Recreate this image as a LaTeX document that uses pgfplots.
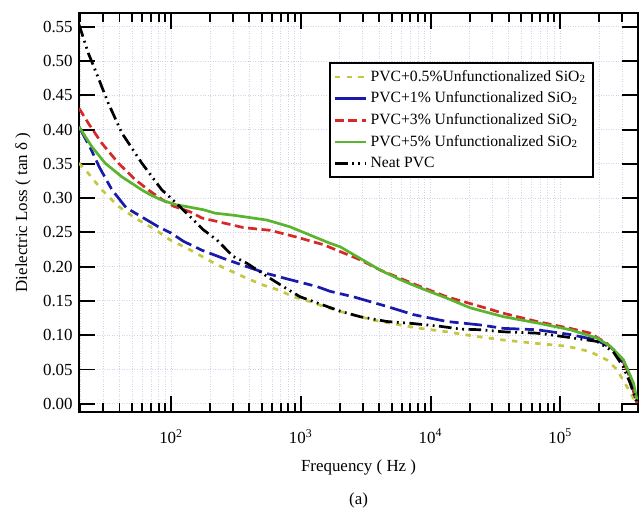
\documentclass[border=0pt]{standalone}
\usepackage{fontspec}
\setmainfont{Liberation Serif}
\usepackage{pgfplots}
\pgfplotsset{compat=1.18}
\definecolor{yc}{RGB}{196,200,64}
\definecolor{bc}{RGB}{25,25,170}
\definecolor{rc}{RGB}{214,40,40}
\definecolor{gc}{RGB}{90,180,45}
\definecolor{gridc}{RGB}{210,210,232}
\begin{document}
\begin{tikzpicture}
\useasboundingbox (-43.9pt,-53.9pt) rectangle (311.1pt,228.9pt);
\begin{axis}[name=ax, at={(0,0)}, anchor=south west, scale only axis,
  width=310.6pt, height=221.7pt,
  xmode=log, xmin=19.5, xmax=3.98e5, ymin=-0.012, ymax=0.57,
  xtick={100,1000,10000,100000},
  xticklabels={10\textsuperscript{2},10\textsuperscript{3},10\textsuperscript{4},10\textsuperscript{5}},
  minor xtick={20,30,40,50,60,70,80,90,200,300,400,500,600,700,800,900,2000,3000,4000,5000,6000,7000,8000,9000,20000,30000,40000,50000,60000,70000,80000,90000,200000,300000},
  ytick={0,0.05,0.1,0.15,0.2,0.25,0.3,0.35,0.4,0.45,0.5,0.55},
  yticklabel style={/pgf/number format/.cd, fixed, fixed zerofill, precision=2, assume math mode=true},
  xticklabel style={yshift=-6pt},
  tick label style={font=\fontsize{9.4}{11}\selectfont},
  label style={font=\fontsize{9.4}{11}\selectfont},
  xlabel style={yshift=-2pt},
  xtick pos=both, ytick pos=both, tick align=inside,
  major tick length=9pt, minor tick length=5pt,
  tick style={black, line width=1.1pt},
  axis line style={line width=1.1pt},
  grid=both,
  major grid style={densely dotted, gridc, line width=0.5pt},
  minor grid style={densely dotted, gridc, line width=0.5pt},
  xlabel={Frequency ( Hz )},
  ylabel={Dielectric Loss ( tan δ )},
  legend style={at={(0.921,0.877)}, anchor=north east, draw=black, line width=0.9pt,
    font=\fontsize{8.7}{10}\selectfont, inner sep=2pt, row sep=0.4pt},
  legend cell align=left,
]
% PVC+0.5%
\addplot[yc, line width=1.5pt, dash pattern=on 3pt off 3.5pt] coordinates {
(19.5,0.351) (23.04,0.336) (29.22,0.312) (39.23,0.288) (52.78,0.271) (75.27,0.254)
(98.24,0.239) (132.1,0.227) (172.5,0.215) (225.1,0.203) (293.8,0.193) (383.4,0.183)
(514.8,0.173) (671.8,0.166) (877,0.156) (1180,0.149) (1494,0.142) (2263,0.132)
(3630,0.122) (5830,0.115) (8314,0.110) (13360,0.105) (21000,0.099) (36480,0.093)
(66000,0.088) (112400,0.084) (170100,0.076) (228700,0.064) (273300,0.050)
(326200,0.025) (366800,0.008) (390000,0.000)
};
\addlegendentry{PVC+0.5\%Unfunctionalized SiO\textsubscript{2}}
% PVC+1%
\addplot[bc, line width=1.5pt, dash pattern=on 10pt off 3pt on 5pt off 3pt, forget plot] coordinates {
(19.5,0.404) (24,0.372) (28,0.345) (35,0.312) (45,0.286) (60,0.272) (80,0.258)
(100,0.249) (124.4,0.237) (172.5,0.224) (253.1,0.212) (383.4,0.200) (547,0.190)
(826.9,0.181) (1329,0.171) (1683,0.164) (2544,0.156) (4604,0.142) (7383,0.130)
(13360,0.120) (24120,0.115) (36480,0.110) (66000,0.108) (119200,0.101)
(191500,0.093) (257200,0.079) (326200,0.052) (389600,0.001)
};
\addlegendimage{bc, line width=1.5pt, solid}
\addlegendentry{PVC+1\% Unfunctionalized SiO\textsubscript{2}}
% PVC+3%
\addplot[rc, line width=1.5pt, dash pattern=on 5pt off 2.5pt] coordinates {
(19.5,0.431) (23.04,0.409) (29.22,0.380) (39.23,0.351) (52.78,0.327) (68.88,0.310)
(85,0.298) (105,0.288) (140.1,0.280) (172.5,0.271) (225.1,0.266) (360.9,0.257)
(579.9,0.253) (931.5,0.243) (1494,0.232) (2009,0.222) (2866,0.210) (4088,0.195)
(5830,0.183) (8314,0.171) (13360,0.156) (24120,0.142) (36480,0.132) (66000,0.120)
(119200,0.110) (170100,0.103) (228700,0.088) (289600,0.069) (345900,0.040)
(389600,0.001)
};
\addlegendentry{PVC+3\% Unfunctionalized SiO\textsubscript{2}}
% PVC+5%
\addplot[gc, line width=1.5pt] coordinates {
(19.5,0.404) (24.47,0.375) (30.98,0.351) (41.69,0.331) (59.43,0.312) (68.88,0.305)
(84.77,0.297) (110.6,0.290) (128.2,0.288) (177.4,0.283) (218.4,0.278) (302.2,0.275)
(547,0.268) (826.9,0.258) (1180,0.246) (1683,0.234) (2009,0.229) (2866,0.212)
(4088,0.195) (5830,0.181) (8314,0.169) (13360,0.154) (20200,0.140) (24120,0.136)
(36480,0.127) (66000,0.118) (119200,0.108) (191500,0.096) (242400,0.084)
(307100,0.064) (366800,0.030) (389600,0.006)
};
\addlegendentry{PVC+5\% Unfunctionalized SiO\textsubscript{2}}
% Neat PVC
\addplot[black, line width=1.5pt, dash pattern=on 7pt off 2.5pt on 1pt off 2.5pt on 1pt off 2.5pt] coordinates {
(19.5,0.553) (23.04,0.511) (25.94,0.487) (32.86,0.438) (41.69,0.395) (59.43,0.351)
(84.77,0.312) (103.6,0.297) (140.1,0.273) (176.5,0.254) (225.1,0.239) (300.6,0.215)
(383.4,0.205) (547,0.186) (730.3,0.171) (987.6,0.156) (1486,0.144) (2009,0.135)
(2866,0.127) (4604,0.120) (7342,0.117) (11860,0.113) (16910,0.109) (24120,0.108)
(36290,0.105) (66000,0.103) (105300,0.098) (191500,0.091) (255800,0.076)
(305500,0.054) (345900,0.030) (389600,0.001)
};
\addlegendentry{Neat PVC}
\end{axis}
\node[font=\fontsize{9.4}{11}\selectfont] at ([yshift=-49pt]ax.south) {(a)};
\end{tikzpicture}
\end{document}
